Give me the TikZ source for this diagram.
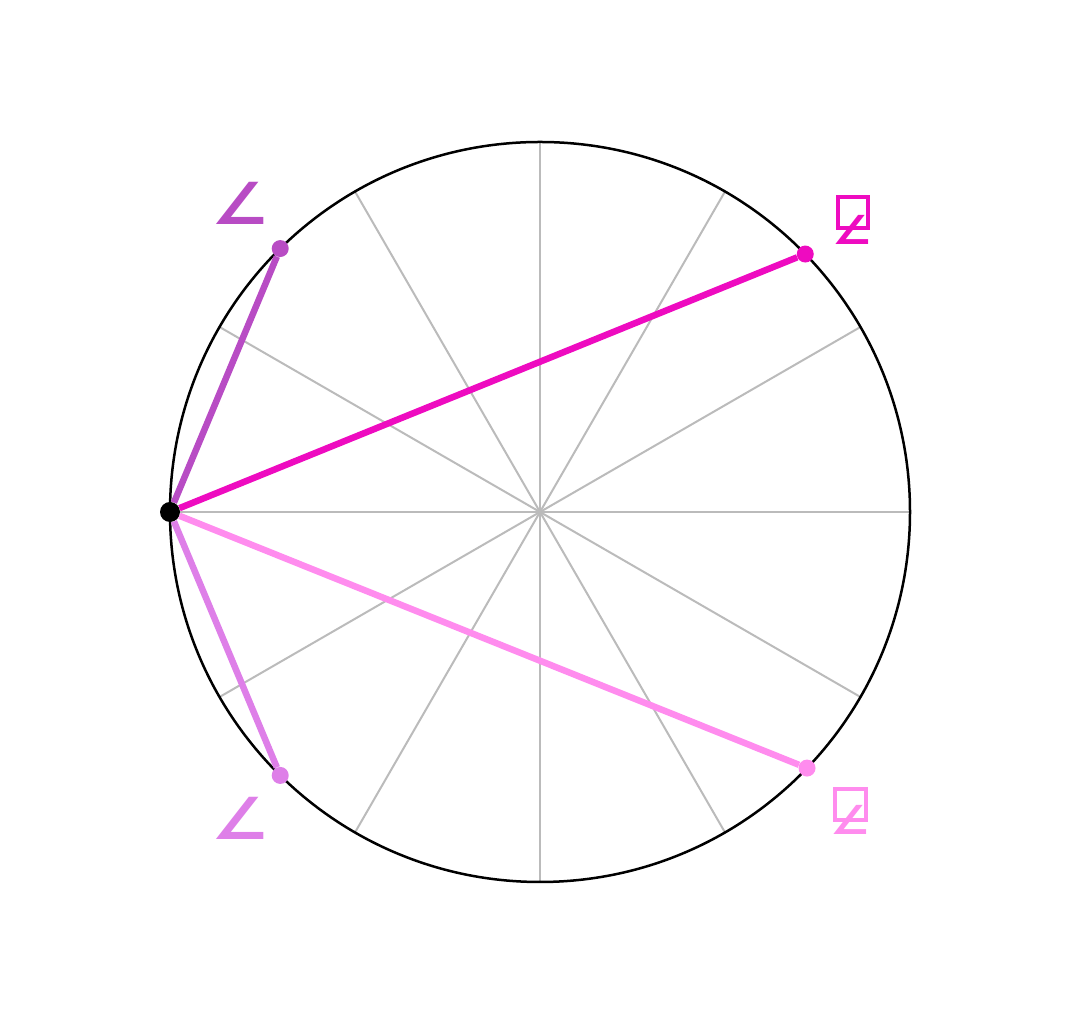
\documentclass[tikz,border=0pt]{standalone}
\usepackage{fontspec}
\usepackage{graphicx}
\newfontfamily\symfont{DejaVu Sans}
\definecolor{plum}{HTML}{B84CC4}
\definecolor{magenta-a}{HTML}{EE0BC0}
\definecolor{pink-a}{HTML}{FF8CEE}
\definecolor{orchid-a}{HTML}{DE7FE8}
\definecolor{spoke-grey}{HTML}{BBBBBB}
\newcommand{\angmark}{\scalebox{1.1}[1]{∠}}
\tikzset{
    spoke/.style = {draw=spoke-grey, line width=2pt},
    chord/.style = {line width=6.5pt},
    end-dot/.style = {circle, inner sep=0pt, minimum size=17pt},
    angle-label/.style = {font=\symfont\bfseries\fontsize{58}{58}\selectfont, inner sep=0pt},
    small-angle-label/.style = {font=\symfont\bfseries\fontsize{40}{40}\selectfont, inner sep=0pt},
    tofu/.style = {line width=4.5pt},
}

\begin{document}
\begin{tikzpicture}[x=1pt,y=1pt]
\useasboundingbox (0,0) rectangle (1081,1024);
\coordinate (centre) at (540,512);
\foreach \a in {0,30,...,330}
    \draw[spoke] (centre) -- ([shift={(\a:370)}]centre);
\draw[line width=2.5pt] (centre) circle (370);

% points on the circle
\node[end-dot, fill=plum] (tl) at ([shift={(134.6:370)}]centre) {};
\node[end-dot, fill=magenta-a] (tr) at ([shift={(44.2:370)}]centre) {};
\node[end-dot, fill=pink-a] (br) at ([shift={(-43.8:370)}]centre) {};
\node[end-dot, fill=orchid-a] (bl) at ([shift={(225.4:370)}]centre) {};
\node[end-dot, fill=black, minimum size=20pt] (pole) at ([shift={(180:370)}]centre) {};

\draw[chord, plum] (pole) -- (tl);
\draw[chord, orchid-a] (pole) -- (bl);
\draw[chord, pink-a] (pole) -- (br);
\draw[chord, magenta-a] (pole) -- (tr);

% labels
\node[angle-label, text=plum] (tl-label) at (240,821) {\angmark};
\node[angle-label, text=orchid-a] (bl-label) at (240,206) {\angmark};
\node[small-angle-label, text=magenta-a] (tr-label) at (852,794) {\angmark};
\draw[tofu, magenta-a] (838,827) rectangle (868,796);
\node[small-angle-label, text=pink-a] (br-label) at (850,204) {\angmark};
\draw[tofu, pink-a] (835,235) rectangle (866,204);
\end{tikzpicture}
\end{document}
